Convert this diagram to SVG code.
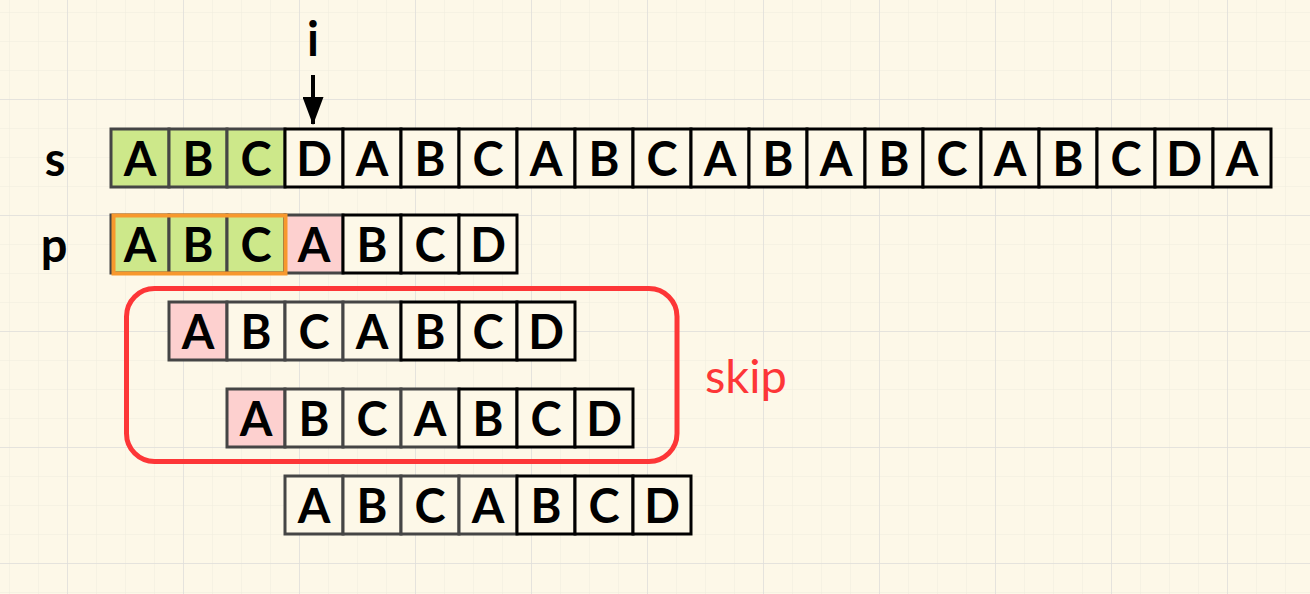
<svg xmlns="http://www.w3.org/2000/svg" width="1310" height="594" viewBox="0 0 1310 594">
<defs>
<pattern id="minor" x="9" y="12" width="29" height="29" patternUnits="userSpaceOnUse">
<path d="M0 0H29M0 0V29" fill="none" stroke="#efebdd" stroke-width="1"/>
</pattern>
<pattern id="major" x="67" y="99" width="116" height="116" patternUnits="userSpaceOnUse">
<path d="M0 0H116M0 0V116" fill="none" stroke="#e0dedb" stroke-width="1.5"/>
</pattern>
<marker id="ah" viewBox="0 0 28 21" refX="27" refY="10.5" markerWidth="28" markerHeight="21" orient="auto" markerUnits="userSpaceOnUse">
<path d="M0 0L28 10.5L0 21z" fill="#000"/>
</marker>
</defs>
<style>
.c{fill:#fdf8e8;stroke:#000;stroke-width:3}
.g{stroke:#454545}
.gr{fill:#cde88a}
.pk{fill:#fdd0cf}
.t{font-family:Lato,"Open Sans",sans-serif;font-size:47px;font-weight:bold;fill:#000;text-anchor:middle}
</style>
<rect width="1310" height="594" fill="#fdf8e8"/>
<rect width="1310" height="594" fill="url(#minor)"/>
<rect width="1310" height="594" fill="url(#major)"/>

<g id="labels">
<text class="t" x="55" y="176">s</text>
<text class="t" x="54" y="262">p</text>
<text class="t" x="313" y="56">i</text>
</g>

<g id="connectors">
<path d="M313 75L313 124" stroke="#000" stroke-width="4" marker-end="url(#ah)"/>
</g>

<g id="row-s">
<rect class="c g gr" x="111" y="129" width="58" height="58"/>
<rect class="c g gr" x="169" y="129" width="58" height="58"/>
<rect class="c g gr" x="227" y="129" width="58" height="58"/>
<rect class="c" x="285" y="129" width="58" height="58"/>
<rect class="c" x="343" y="129" width="58" height="58"/>
<rect class="c" x="401" y="129" width="58" height="58"/>
<rect class="c" x="459" y="129" width="58" height="58"/>
<rect class="c" x="517" y="129" width="58" height="58"/>
<rect class="c" x="575" y="129" width="58" height="58"/>
<rect class="c" x="633" y="129" width="58" height="58"/>
<rect class="c" x="691" y="129" width="58" height="58"/>
<rect class="c" x="749" y="129" width="58" height="58"/>
<rect class="c" x="807" y="129" width="58" height="58"/>
<rect class="c" x="865" y="129" width="58" height="58"/>
<rect class="c" x="923" y="129" width="58" height="58"/>
<rect class="c" x="981" y="129" width="58" height="58"/>
<rect class="c" x="1039" y="129" width="58" height="58"/>
<rect class="c" x="1097" y="129" width="58" height="58"/>
<rect class="c" x="1155" y="129" width="58" height="58"/>
<rect class="c" x="1213" y="129" width="58" height="58"/>
<text class="t" y="176"><tspan x="140">A</tspan><tspan x="198">B</tspan><tspan x="256">C</tspan><tspan x="314">D</tspan><tspan x="372">A</tspan><tspan x="430">B</tspan><tspan x="488">C</tspan><tspan x="546">A</tspan><tspan x="604">B</tspan><tspan x="662">C</tspan><tspan x="720">A</tspan><tspan x="778">B</tspan><tspan x="836">A</tspan><tspan x="894">B</tspan><tspan x="952">C</tspan><tspan x="1010">A</tspan><tspan x="1068">B</tspan><tspan x="1126">C</tspan><tspan x="1184">D</tspan><tspan x="1242">A</tspan></text>
</g>

<g id="row-p">
<rect class="c g gr" x="111" y="215" width="58" height="58"/>
<rect class="c g gr" x="169" y="215" width="58" height="58"/>
<rect class="c g gr" x="227" y="215" width="58" height="58"/>
<rect class="c g pk" x="285" y="215" width="58" height="58"/>
<rect class="c" x="343" y="215" width="58" height="58"/>
<rect class="c" x="401" y="215" width="58" height="58"/>
<rect class="c" x="459" y="215" width="58" height="58"/>
<rect x="113.5" y="215.5" width="172" height="58" fill="none" stroke="#f7982d" stroke-width="4"/>
<text class="t" y="262"><tspan x="140">A</tspan><tspan x="198">B</tspan><tspan x="256">C</tspan><tspan x="314">A</tspan><tspan x="372">B</tspan><tspan x="430">C</tspan><tspan x="488">D</tspan></text>
</g>

<g id="row-3">
<rect class="c g pk" x="169" y="302" width="58" height="58"/>
<rect class="c g" x="227" y="302" width="58" height="58"/>
<rect class="c g" x="285" y="302" width="58" height="58"/>
<rect class="c g" x="343" y="302" width="58" height="58"/>
<rect class="c" x="401" y="302" width="58" height="58"/>
<rect class="c" x="459" y="302" width="58" height="58"/>
<rect class="c" x="517" y="302" width="58" height="58"/>
<text class="t" y="349"><tspan x="198">A</tspan><tspan x="256">B</tspan><tspan x="314">C</tspan><tspan x="372">A</tspan><tspan x="430">B</tspan><tspan x="488">C</tspan><tspan x="546">D</tspan></text>
</g>

<g id="row-4">
<rect class="c g pk" x="227" y="389" width="58" height="58"/>
<rect class="c g" x="285" y="389" width="58" height="58"/>
<rect class="c g" x="343" y="389" width="58" height="58"/>
<rect class="c g" x="401" y="389" width="58" height="58"/>
<rect class="c" x="459" y="389" width="58" height="58"/>
<rect class="c" x="517" y="389" width="58" height="58"/>
<rect class="c" x="575" y="389" width="58" height="58"/>
<text class="t" y="436"><tspan x="256">A</tspan><tspan x="314">B</tspan><tspan x="372">C</tspan><tspan x="430">A</tspan><tspan x="488">B</tspan><tspan x="546">C</tspan><tspan x="604">D</tspan></text>
</g>

<g id="row-5">
<rect class="c g" x="285" y="476" width="58" height="58"/>
<rect class="c g" x="343" y="476" width="58" height="58"/>
<rect class="c g" x="401" y="476" width="58" height="58"/>
<rect class="c g" x="459" y="476" width="58" height="58"/>
<rect class="c" x="517" y="476" width="58" height="58"/>
<rect class="c" x="575" y="476" width="58" height="58"/>
<rect class="c" x="633" y="476" width="58" height="58"/>
<text class="t" y="523"><tspan x="314">A</tspan><tspan x="372">B</tspan><tspan x="430">C</tspan><tspan x="488">A</tspan><tspan x="546">B</tspan><tspan x="604">C</tspan><tspan x="662">D</tspan></text>
</g>

<g id="skip">
<rect x="126.5" y="288.5" width="550.5" height="173" rx="28" fill="none" stroke="#fd3637" stroke-width="5"/>
<text x="705" y="393" style="font-family:Lato,sans-serif;font-size:47px;fill:#fd3637">skip</text>
</g>
</svg>
